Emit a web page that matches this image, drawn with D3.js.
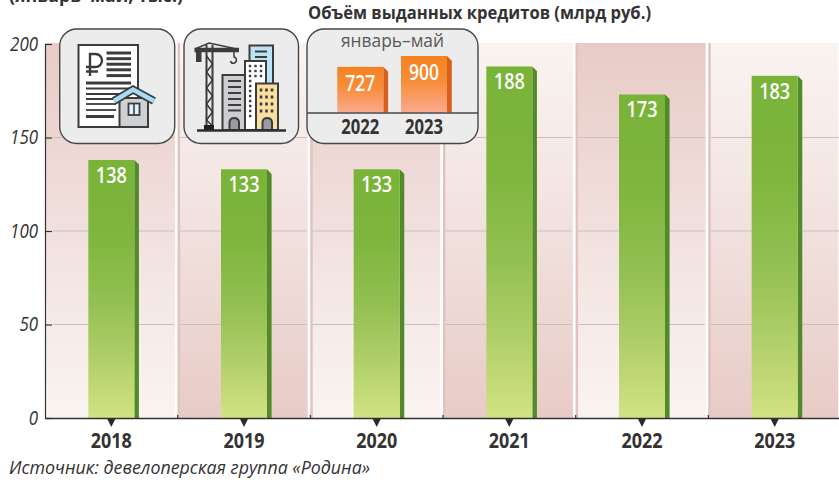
<!DOCTYPE html>
<html lang="ru"><head><meta charset="utf-8">
<style>html,body{margin:0;padding:0;background:#fff}svg{display:block}text{font-family:"Open Sans","Noto Sans",sans-serif}</style>
<script src="https://cdn.jsdelivr.net/npm/d3@7/dist/d3.min.js"></script>
</head><body><div id="c"></div>
<script>
const years = ["2018","2019","2020","2021","2022","2023"];
const credits = [138,133,133,188,173,183];
const yTicks = [0,50,100,150,200];
const insetYears = ["2022","2023"];
const insetValues = [727,900];
const titleText = "Объём выданных кредитов (млрд руб.)";
const clippedTitle = "(январь–май, тыс.)";
const insetTitle = "январь–май";
const sourceText = "Источник: девелоперская группа «Родина»";

const W=839,H=482;
const svg=d3.select("#c").append("svg").attr("width",W).attr("height",H);
const defs=svg.append("defs");
const x=d3.scaleBand().domain(years).range([45,841]).paddingInner(0).paddingOuter(0);
const y=d3.scaleLinear().domain([0,200]).range([418,44]);
const bw=x.bandwidth();
const barW=46, side=4.6;
const INK="#333335";

function grad(id,stops){
  const g=defs.append("linearGradient").attr("id",id).attr("x1",0).attr("y1",0).attr("x2",0).attr("y2",1);
  stops.forEach(s=>g.append("stop").attr("offset",s[0]).attr("stop-color",s[1]));
}
grad("bgA",[[0,"#e8cbc6"],[0.5,"#f1e1de"],[1,"#faf4f1"]]);
grad("bgB",[[0,"#faf4f1"],[0.5,"#f1e1de"],[1,"#e8cbc6"]]);
grad("green",[[0,"#79b338"],[0.3,"#7fb63e"],[0.55,"#93c052"],[0.75,"#adcd66"],[0.92,"#c6dc78"],[1,"#d1e384"]]);
grad("orange",[[0,"#f58220"],[0.45,"#f78d38"],[1,"#fbab90"]]);

// bands
years.forEach((yr,i)=>{
  const b=x(yr);
  svg.append("rect").attr("x",b).attr("y",y(200)-1).attr("width",bw-2.7).attr("height",y(0)-y(200)+1)
    .attr("fill",i%2?"url(#bgB)":"url(#bgA)");
  if(i>0) svg.append("rect").attr("x",b).attr("y",y(200)-1).attr("width",2.4).attr("height",y(0)-y(200)+1).attr("fill","#e0c3bf");
  yTicks.filter(t=>t>0&&t<200).forEach(t=>{
    svg.append("line").attr("x1",i?b+2.4:53).attr("x2",b+bw-(i==5?0:3.6)).attr("y1",y(t)).attr("y2",y(t))
      .attr("stroke","#c9bfbc").attr("stroke-width",1);
  });
  if(i>0) svg.append("line").attr("x1",b).attr("x2",b).attr("y1",y(0)-3).attr("y2",y(0)).attr("stroke",INK).attr("stroke-width",1.2);
});

// bars
const bars=svg.append("g").selectAll("g").data(years).join("g");
const cx=d=>x(d)+bw/2;
bars.append("path").attr("fill","#528a2b").attr("d",(d,i)=>{
  const r=cx(d)+barW/2,t=y(credits[i]);
  return `M${r},${t}L${r+side},${t+side}L${r+side},${y(0)}L${r},${y(0)}Z`;
});
bars.append("rect").attr("x",d=>cx(d)-barW/2).attr("width",barW)
  .attr("y",(d,i)=>y(credits[i])).attr("height",(d,i)=>y(0)-y(credits[i])).attr("fill","url(#green)");
bars.append("text").attr("x",cx).attr("y",(d,i)=>y(credits[i])+23).attr("text-anchor","middle")
  .attr("fill","#fff").attr("font-size",21.5).attr("font-weight",600)
  .attr("textLength",31).attr("lengthAdjust","spacingAndGlyphs")
  .text((d,i)=>credits[i]);

// axes
const yAxis=svg.append("g").attr("transform","translate(45,0)")
  .call(d3.axisLeft(y).tickValues(yTicks).tickSizeInner(-7).tickSizeOuter(0).tickPadding(14));
yAxis.select(".domain").attr("stroke",INK).attr("stroke-width",1.2);
yAxis.selectAll(".tick line").attr("stroke",INK).attr("stroke-width",1.2);
yAxis.selectAll(".tick text").attr("x",-7).attr("dy",6).attr("text-anchor","end")
  .attr("font-style","italic").attr("font-size",20).attr("fill",INK).style("font-family",'"Open Sans",sans-serif')
  .attr("textLength",function(){return this.textContent.length*9.3}).attr("lengthAdjust","spacingAndGlyphs");

const xAxis=svg.append("g").attr("transform",`translate(0,${y(0)})`)
  .call(d3.axisBottom(x).tickSize(0).tickPadding(14));
xAxis.select(".domain").attr("d","M45,0.5H839").attr("stroke",INK).attr("stroke-width",1.4);
xAxis.selectAll(".tick text").attr("y",30).attr("dy",0).attr("fill",INK)
  .attr("font-size",21.5).attr("font-weight",700).style("font-family",'"Open Sans",sans-serif')
  .attr("textLength",41).attr("lengthAdjust","spacingAndGlyphs");
xAxis.selectAll(".tick").append("path").attr("d","M-4,1L4,1L0,9Z").attr("fill","#2a2a2c");

// texts
svg.append("text").attr("x",9).attr("y",2).attr("font-size",18).attr("font-weight",700).attr("fill",INK)
  .attr("textLength",174).attr("lengthAdjust","spacingAndGlyphs").text(clippedTitle);
svg.append("text").attr("x",308).attr("y",19).attr("font-size",18).attr("font-weight",700).attr("fill",INK)
  .attr("textLength",343).attr("lengthAdjust","spacingAndGlyphs").text(titleText);
svg.append("text").attr("x",9).attr("y",474).attr("font-size",19).attr("font-style","italic").attr("fill",INK)
  .attr("textLength",361).attr("lengthAdjust","spacingAndGlyphs").text(sourceText);

// icon boxes
function box(x0,w){
  svg.append("rect").attr("x",x0).attr("y",29).attr("width",w).attr("height",114.5).attr("rx",17)
    .attr("fill","#ececec").attr("stroke","#47474a").attr("stroke-width",1.4);
}
const ink="#3c3c3e";
function R(g,a,b,c,d,f,sw){return g.append("rect").attr("x",a).attr("y",b).attr("width",c-a).attr("height",d-b).attr("fill",f).attr("stroke",sw?ink:"none").attr("stroke-width",sw||0);}
function L(g,a,b,c,d,sw,col){return g.append("line").attr("x1",a).attr("y1",b).attr("x2",c).attr("y2",d).attr("stroke",col||ink).attr("stroke-width",sw);}
function P(g,d,f,sw,col){return g.append("path").attr("d",d).attr("fill",f||"none").attr("stroke",col||ink).attr("stroke-width",sw||0);}

// document icon
box(59.7,115);
const i1=svg.append("g");
R(i1,78.5,45,138,127,"#fff",2);
P(i1,"M90,76V54H95.5A6.5,6.5 0 0 1 95.5,67H86M86,71.5H98",null,2.4);
[53,58.7,64.2,69.8,75.6].forEach(v=>L(i1,106.5,v,131,v,3));
L(i1,86,83,131,83,3);
[[88.5,131],[94,126],[99,121],[104,116],[110,116]].forEach(a=>L(i1,86,a[0],a[1],a[0],1.8));
L(i1,86,116.5,114,116.5,3);
R(i1,119.5,98,148,127,"#cfd0d2",2);
P(i1,"M114,101L133,89.5L154,101",null,8,ink);
P(i1,"M114,101L133,89.5L154,101",null,4.5,"#a9dcf4");
R(i1,128.5,103.5,139.5,115,"#dff1fa",1.8);
L(i1,134,103.5,134,115,1.6);

// construction icon
box(184,114.5);
const i2=svg.append("g");
R(i2,249.5,45.5,273,105,"#bce3f6",2);
[51.5,57].forEach(v=>L(i2,255,v,267,v,2));
R(i2,222.5,75,245,130,"#ccced0",2);
[81,87,93,99,105,110.5].forEach(v=>L(i2,228,v,241,v,2));
P(i2,"M229.5,130V122A4.8,4.8 0 0 1 239,122V130Z","#9b9ca0",2);
R(i2,245,61,266,130,"#fff",2);
[66,71,76].forEach(v=>[250,255.5,261].forEach(u=>R(i2,u-1.2,v-1.2,u+1.2,v+1.2,ink)));
[81,86,91,96,101,106,111,116].forEach(v=>R(i2,249,v-1.2,251.4,v+1.2,ink));
R(i2,256,83.5,278,130,"#fbdf9f",2);
[90,97,104,111].forEach(v=>[261,266.5,272].forEach(u=>R(i2,u-1.3,v-1.5,u+1.3,v+1.5,ink)));
P(i2,"M262.5,130V122A4.8,4.8 0 0 1 272,122V130Z","#9b9ca0",2);
// crane
L(i2,206.5,45,206.5,128,2);L(i2,212.5,45,212.5,128,2);
P(i2,"M206.5,56L212.5,64L206.5,72L212.5,80L206.5,88L212.5,96L206.5,104L212.5,112L206.5,120L212.5,126",null,1.6);
P(i2,"M195,49L209,43L237,49",null,1.4);
L(i2,194.5,50,239,50,4.6);
R(i2,196,52,201.5,62,ink);
P(i2,"M234,52V57A3,3.2 0 1 1 230.5,61",null,1.5);
R(i2,204,125,214,130,"#1f1f21");
L(i2,197,130.5,286,130.5,2.6,"#2e2e30");

// inset chart
box(307,171);
const ix=d3.scaleOrdinal().domain(insetYears).range([360.3,424]);
const iy=d3.scaleLinear().domain([0,900]).range([112.5,56]);
const ibars=svg.append("g").selectAll("g").data(insetYears).join("g");
ibars.append("path").attr("fill","#d95f1c").attr("d",(d,i)=>{
  const r=ix(d)+23,t=iy(insetValues[i]);
  return `M${r},${t}L${r+4.8},${t+4.8}L${r+4.8},${iy(0)}L${r},${iy(0)}Z`;
});
ibars.append("rect").attr("x",d=>ix(d)-23).attr("width",46).attr("y",(d,i)=>iy(insetValues[i]))
  .attr("height",(d,i)=>iy(0)-iy(insetValues[i])).attr("fill","url(#orange)");
ibars.append("text").attr("x",ix).attr("y",(d,i)=>iy(insetValues[i])+24).attr("text-anchor","middle")
  .attr("fill","#fff").attr("font-size",21.5).attr("font-weight",600)
  .attr("textLength",30).attr("lengthAdjust","spacingAndGlyphs").text((d,i)=>insetValues[i]);
ibars.append("text").attr("x",ix).attr("y",134).attr("text-anchor","middle")
  .attr("fill",INK).attr("font-size",20.5).attr("font-weight",700)
  .attr("textLength",38).attr("lengthAdjust","spacingAndGlyphs").text(d=>d);
svg.append("line").attr("x1",307).attr("x2",478).attr("y1",113).attr("y2",113).attr("stroke","#47474a").attr("stroke-width",1.4);
svg.append("text").attr("x",392.5).attr("y",47).attr("text-anchor","middle").attr("font-size",18).attr("fill","#58585a")
  .attr("textLength",103).attr("lengthAdjust","spacingAndGlyphs").text(insetTitle);
</script></body></html>
